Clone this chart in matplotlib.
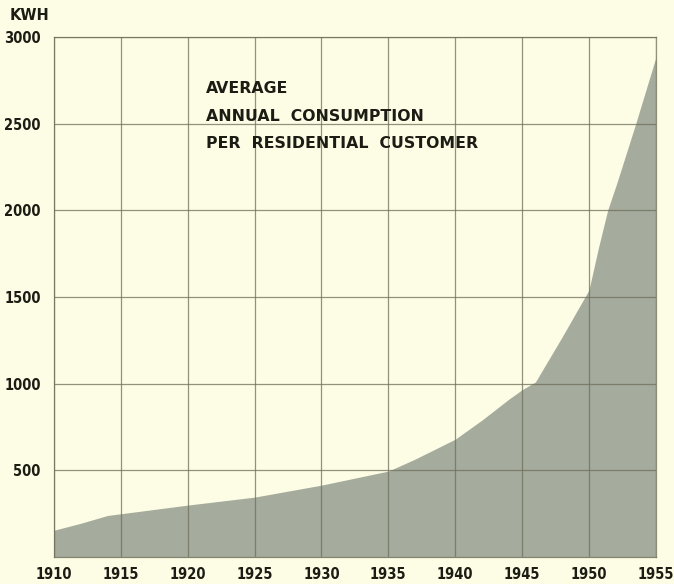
import matplotlib.pyplot as plt

# data
years = [1910, 1912, 1914, 1915, 1920, 1925, 1930, 1935, 1937, 1940, 1942,
         1944, 1945, 1946, 1948, 1950, 1950.7, 1951.4, 1952.1, 1953.5, 1955]
kwh = [155, 195, 240, 250, 300, 346, 415, 496, 565, 680, 790,
       910, 965, 1010, 1270, 1540, 1780, 2000, 2160, 2500, 2880]
xticks = [1910, 1915, 1920, 1925, 1930, 1935, 1940, 1945, 1950, 1955]
yticks = [500, 1000, 1500, 2000, 2500, 3000]
title_lines = ["AVERAGE", "ANNUAL  CONSUMPTION", "PER  RESIDENTIAL  CUSTOMER"]

bg = '#fdfce4'
fill_col = '#a5ab9d'
grid_col = '#6f6f5a'
ink = '#1c1c14'

fig = plt.figure(figsize=(6.74, 5.84), dpi=100, facecolor=bg)
ax = fig.add_axes([0.080, 0.046, 0.893, 0.891], facecolor=bg)

ax.fill_between(years, 0, kwh, color=fill_col, lw=0, zorder=1)

ax.set_xlim(1910, 1955)
ax.set_ylim(0, 3000)
ax.set_xticks(xticks)
ax.set_yticks(yticks)
ax.grid(True, color=grid_col, lw=0.9, alpha=0.75, zorder=2)
ax.set_axisbelow(False)
for s in ax.spines.values():
    s.set_color(grid_col)
    s.set_linewidth(0.9)
    s.set_alpha(0.75)

ax.tick_params(length=0, labelcolor=ink)
ax.tick_params(axis='x', pad=7)
ax.tick_params(axis='y', pad=9.5)
for lab in ax.get_xticklabels() + ax.get_yticklabels():
    lab.set_fontfamily('DejaVu Sans')
    lab.set_fontstretch('condensed')
    lab.set_fontweight('bold')
    lab.set_fontsize(10.5)

fig.text(10 / 674, 1 - 16 / 584, "KWH", fontfamily='DejaVu Sans', fontweight='heavy',
         fontsize=10.5, color=ink, va='center', ha='left')

for i, line in enumerate(title_lines):
    ax.text(1921.4, 2700 - i * 158, line, fontfamily='DejaVu Sans', fontweight='bold',
            fontsize=11.3, color=ink, va='center', ha='left', zorder=3)

fig.savefig('out.png', dpi=100, facecolor=bg)
